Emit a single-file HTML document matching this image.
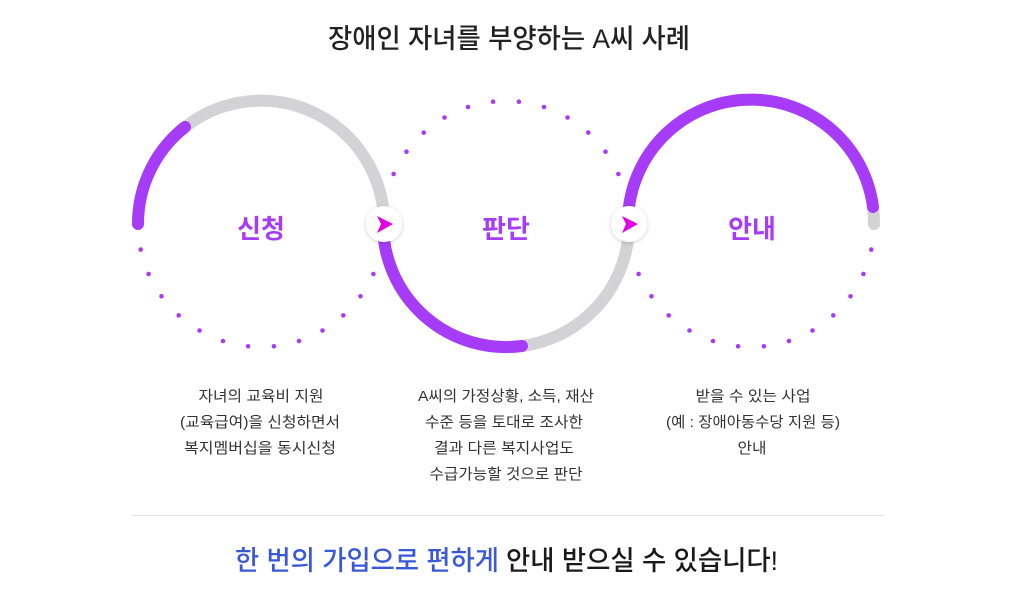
<!DOCTYPE html>
<html><head><meta charset="utf-8"><style>
html,body{margin:0;padding:0;background:#fff;}
svg{display:block;}
text{font-family:"Liberation Sans","Noto Sans CJK KR",sans-serif;}
</style></head><body>
<svg width="1024" height="598" viewBox="0 0 1024 598" xmlns="http://www.w3.org/2000/svg">
<defs>
<filter id="sh" x="-50%" y="-50%" width="200%" height="200%"><feDropShadow dx="0" dy="1" stdDeviation="2.5" flood-color="#000" flood-opacity="0.18"/></filter>
</defs>
<text x="509" y="48" text-anchor="middle" font-size="27" font-weight="500" fill="#222" textLength="362" lengthAdjust="spacingAndGlyphs">장애인 자녀를 부양하는 A씨 사례</text>

<g fill="none" stroke-width="12" stroke-linecap="round">
<path d="M185,127 A123,123 0 0 1 384,224" stroke="#d3d3d5"/>
<path d="M138,224 A123,123 0 0 1 185,127" stroke="#a63cf7"/>
<path d="M383,224 A123,123 0 0 0 629,224" stroke="#d3d3d5"/>
<path d="M383,224 A123,123 0 0 0 522,346" stroke="#a63cf7"/>
<path d="M873,207 A123,123 0 0 1 874,224" stroke="#d3d3d5"/>
<path d="M628,224 A123,123 0 0 1 873,207" stroke="#a63cf7"/>
</g>

<g fill="#a63cf7">
<circle cx="373.4" cy="274.0" r="2.3"/><circle cx="360.5" cy="296.3" r="2.3"/><circle cx="343.3" cy="315.4" r="2.3"/><circle cx="322.5" cy="330.5" r="2.3"/><circle cx="299.0" cy="341.0" r="2.3"/><circle cx="273.9" cy="346.3" r="2.3"/><circle cx="248.1" cy="346.3" r="2.3"/><circle cx="223.0" cy="341.0" r="2.3"/><circle cx="199.5" cy="330.5" r="2.3"/><circle cx="178.7" cy="315.4" r="2.3"/><circle cx="161.5" cy="296.3" r="2.3"/><circle cx="148.6" cy="274.0" r="2.3"/><circle cx="140.7" cy="249.6" r="2.3"/>
<circle cx="618.4" cy="174.0" r="2.3"/><circle cx="605.5" cy="151.7" r="2.3"/><circle cx="588.3" cy="132.6" r="2.3"/><circle cx="567.5" cy="117.5" r="2.3"/><circle cx="544.0" cy="107.0" r="2.3"/><circle cx="518.9" cy="101.7" r="2.3"/><circle cx="493.1" cy="101.7" r="2.3"/><circle cx="468.0" cy="107.0" r="2.3"/><circle cx="444.5" cy="117.5" r="2.3"/><circle cx="423.7" cy="132.6" r="2.3"/><circle cx="406.5" cy="151.7" r="2.3"/><circle cx="393.6" cy="174.0" r="2.3"/>
<circle cx="871.3" cy="249.6" r="2.3"/><circle cx="863.4" cy="274.0" r="2.3"/><circle cx="850.5" cy="296.3" r="2.3"/><circle cx="833.3" cy="315.4" r="2.3"/><circle cx="812.5" cy="330.5" r="2.3"/><circle cx="789.0" cy="341.0" r="2.3"/><circle cx="763.9" cy="346.3" r="2.3"/><circle cx="738.1" cy="346.3" r="2.3"/><circle cx="713.0" cy="341.0" r="2.3"/><circle cx="689.5" cy="330.5" r="2.3"/><circle cx="668.7" cy="315.4" r="2.3"/><circle cx="651.5" cy="296.3" r="2.3"/><circle cx="638.6" cy="274.0" r="2.3"/>
</g>

<circle cx="384" cy="224" r="18" fill="#fff" filter="url(#sh)"/>
<circle cx="629" cy="224" r="18" fill="#fff" filter="url(#sh)"/>
<path d="M377,216 L393,224 L377,233 L381,224 Z" fill="#e400e4"/>
<path d="M622,216 L638,224 L622,233 L626,224 Z" fill="#e400e4"/>

<g font-size="26" font-weight="700" fill="#a63cf7" text-anchor="middle">
<text x="261" y="238">신청</text>
<text x="506" y="238">판단</text>
<text x="752" y="238">안내</text>
</g>

<g font-size="15" fill="#333" text-anchor="middle">
<text x="261" y="401" textLength="125" lengthAdjust="spacingAndGlyphs">자녀의 교육비 지원</text>
<text x="260" y="427" textLength="160" lengthAdjust="spacingAndGlyphs">(교육급여)을 신청하면서</text>
<text x="260" y="453" textLength="152" lengthAdjust="spacingAndGlyphs">복지멤버십을 동시신청</text>
<text x="506" y="401" textLength="176" lengthAdjust="spacingAndGlyphs">A씨의 가정상황, 소득, 재산</text>
<text x="504" y="427" textLength="158" lengthAdjust="spacingAndGlyphs">수준 등을 토대로 조사한</text>
<text x="504" y="453" textLength="140" lengthAdjust="spacingAndGlyphs">결과 다른 복지사업도</text>
<text x="506" y="479" textLength="153" lengthAdjust="spacingAndGlyphs">수급가능할 것으로 판단</text>
<text x="753" y="401" textLength="115" lengthAdjust="spacingAndGlyphs">받을 수 있는 사업</text>
<text x="753" y="427" textLength="174" lengthAdjust="spacingAndGlyphs">(예 : 장애아동수당 지원 등)</text>
<text x="752" y="453" textLength="29" lengthAdjust="spacingAndGlyphs">안내</text>
</g>

<line x1="132" y1="515.5" x2="884" y2="515.5" stroke="#e6e6e6" stroke-width="1"/>

<text x="235" y="570" font-size="27" font-weight="500" fill="#3a57d8" textLength="264" lengthAdjust="spacingAndGlyphs">한 번의 가입으로 편하게</text>
<text x="506" y="570" font-size="27" font-weight="500" fill="#1a1a1a" textLength="272" lengthAdjust="spacingAndGlyphs">안내 받으실 수 있습니다!</text>
</svg>
</body></html>
